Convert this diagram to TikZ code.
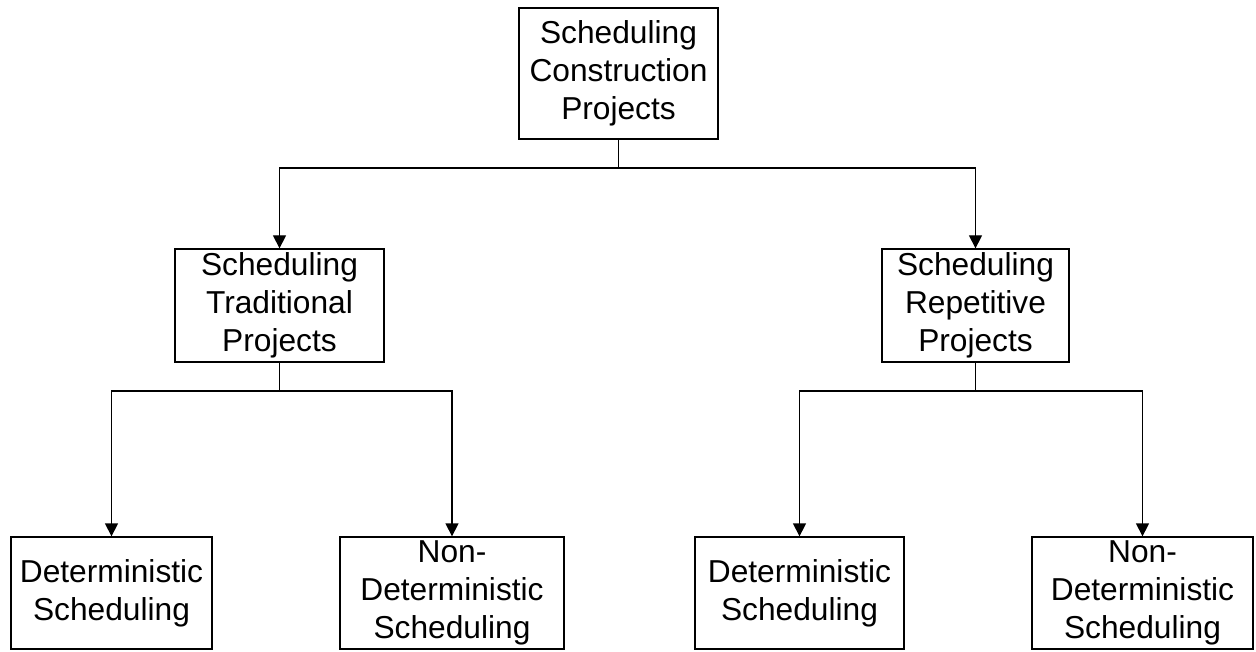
\documentclass[tikz,border=0pt]{standalone}
\usepackage{fontspec}
\setmainfont{Liberation Sans}
\usetikzlibrary{arrows.meta}
\begin{document}
\begin{tikzpicture}[x=1pt,y=-1pt,
  box/.style={draw=black,line width=1.3pt,inner sep=0pt,align=center,
    font=\fontsize{31.7}{38}\selectfont},
  link/.style={draw=black,line width=1.3pt},
  arr/.style={link,-{Triangle[width=13pt,length=13pt]}}]
\useasboundingbox (0,0) rectangle (1256,652);

% hierarchy boxes
\node[box,minimum width=199pt,minimum height=131pt] (root) at (618.5,73.5)
  {Scheduling\\Construction\\Projects};
\node[box,minimum width=209pt,minimum height=113pt] (trad) at (279.5,305.5)
  {Scheduling\\Traditional\\Projects};
\node[box,minimum width=187pt,minimum height=113pt] (rep) at (975.5,305.5)
  {Scheduling\\Repetitive\\Projects};
\node[box,minimum width=201pt,minimum height=112pt] (tdet) at (111.5,593)
  {Deterministic\\Scheduling};
\node[box,minimum width=224pt,minimum height=112pt] (tnon) at (452,593)
  {Non-\\Deterministic\\Scheduling};
\node[box,minimum width=209pt,minimum height=112pt] (rdet) at (799.5,593)
  {Deterministic\\Scheduling};
\node[box,minimum width=221pt,minimum height=112pt] (rnon) at (1142.5,593)
  {Non-\\Deterministic\\Scheduling};

% branch levels
\coordinate (j0) at (618.5,168);
\coordinate (j1) at (279.5,391);
\coordinate (j2) at (975.5,391);

% connectors
\draw[link] (root.south) -- (j0);
\draw[arr] (j0) -| (trad.north);
\draw[arr] (j0) -| (rep.north);

\draw[link] (trad.south) -- (j1);
\draw[arr] (j1) -| (tdet.north);
\draw[arr] (j1) -| (tnon.north);

\draw[link] (rep.south) -- (j2);
\draw[arr] (j2) -| (rdet.north);
\draw[arr] (j2) -| (rnon.north);
\end{tikzpicture}
\end{document}
